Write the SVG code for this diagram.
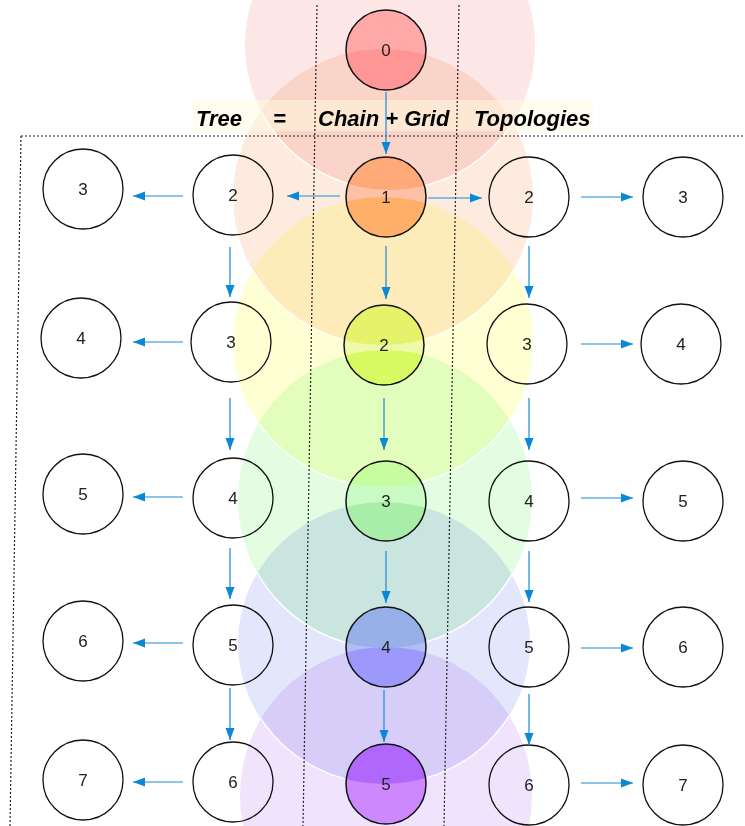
<svg xmlns="http://www.w3.org/2000/svg" width="745" height="826" viewBox="0 0 745 826">
<style>
.halo{mix-blend-mode:multiply;stroke:none}
.edge{fill:none;stroke:#ffffff;stroke-width:1.5;stroke-opacity:0.9}
.cn{stroke:#111;stroke-width:1.5}
.gn{fill:none;stroke:#111;stroke-width:1.3}
.lbl{font-family:"Liberation Sans",Arial,sans-serif;font-size:17px;fill:#222;text-anchor:middle}
.dash{fill:none;stroke:#222;stroke-width:1.2;stroke-dasharray:2 2}
.arr{stroke:#1a8ad8;stroke-width:1.2;fill:none;marker-end:url(#ah)}
.title{font-family:"Liberation Sans",Arial,sans-serif;font-size:22px;font-weight:bold;font-style:italic;fill:#000}
</style>
<defs>
<marker id="ah" markerUnits="userSpaceOnUse" markerWidth="12" markerHeight="10" refX="12" refY="5" orient="auto"><path d="M0,0.5 L12,5 L0,9.5 z" fill="#0a88d8"/></marker>
<clipPath id="cp0"><ellipse cx="390" cy="45" rx="145" ry="145"/></clipPath>
<clipPath id="cp1"><ellipse cx="383" cy="197" rx="150" ry="148"/></clipPath>
<clipPath id="cp2"><ellipse cx="383" cy="342" rx="150" ry="145"/></clipPath>
<clipPath id="cp3"><ellipse cx="385" cy="499" rx="147" ry="149"/></clipPath>
<clipPath id="cp4"><ellipse cx="384" cy="643" rx="146" ry="141"/></clipPath>
<clipPath id="cp5"><ellipse cx="386" cy="795" rx="146" ry="148"/></clipPath>
</defs>
<rect x="0" y="0" width="745" height="826" fill="#ffffff"/>
<g id="halos">
<ellipse class="halo" cx="390" cy="45" rx="145" ry="145" fill="#fde6e6"/>
<ellipse class="halo" cx="383" cy="197" rx="150" ry="148" fill="#fdebdf"/>
<ellipse class="halo" cx="383" cy="342" rx="150" ry="145" fill="#ffffd4"/>
<ellipse class="halo" cx="385" cy="499" rx="147" ry="149" fill="#e2fde2"/>
<ellipse class="halo" cx="384" cy="643" rx="146" ry="141" fill="#e4e6fc"/>
<ellipse class="halo" cx="386" cy="795" rx="146" ry="148" fill="#f0e4fc"/>
</g>
<g id="halo-edges">
<ellipse class="edge" cx="390" cy="45" rx="145" ry="145" clip-path="url(#cp1)"/>
<ellipse class="edge" cx="383" cy="197" rx="150" ry="148" clip-path="url(#cp2)"/>
<ellipse class="edge" cx="383" cy="342" rx="150" ry="145" clip-path="url(#cp3)"/>
<ellipse class="edge" cx="385" cy="499" rx="147" ry="149" clip-path="url(#cp4)"/>
<ellipse class="edge" cx="384" cy="643" rx="146" ry="141" clip-path="url(#cp5)"/>
</g>
<g id="n0">
<circle cx="386" cy="50" r="40" fill="#ffa8a8"/>
<circle cx="386" cy="50" r="40" fill="#ff9696" clip-path="url(#cp1)"/>
<circle class="cn" cx="386" cy="50" r="40" fill="none"/>
<text class="lbl" x="386" y="56">0</text>
</g>
<g id="n1">
<circle cx="386" cy="197" r="40" fill="#ffc0a8"/>
<circle cx="386" cy="197" r="40" fill="#ffa878" clip-path="url(#cp0)"/>
<circle cx="386" cy="197" r="40" fill="#ffb068" clip-path="url(#cp2)"/>
<circle class="cn" cx="386" cy="197" r="40" fill="none"/>
<text class="lbl" x="386" y="203">1</text>
</g>
<g id="n2">
<circle cx="384" cy="345" r="40" fill="#eefaa8"/>
<circle cx="384" cy="345" r="40" fill="#e6f26a" clip-path="url(#cp1)"/>
<circle cx="384" cy="345" r="40" fill="#d8fa62" clip-path="url(#cp3)"/>
<circle class="cn" cx="384" cy="345" r="40" fill="none"/>
<text class="lbl" x="384" y="351">2</text>
</g>
<g id="n3">
<circle cx="386" cy="501" r="40" fill="#c8fcc4"/>
<circle cx="386" cy="501" r="40" fill="#c8fca0" clip-path="url(#cp2)"/>
<circle cx="386" cy="501" r="40" fill="#a8eea8" clip-path="url(#cp4)"/>
<circle class="cn" cx="386" cy="501" r="40" fill="none"/>
<text class="lbl" x="386" y="507">3</text>
</g>
<g id="n4">
<circle cx="386" cy="647" r="40" fill="#b4bcf6"/>
<circle cx="386" cy="647" r="40" fill="#98b0e8" clip-path="url(#cp3)"/>
<circle cx="386" cy="647" r="40" fill="#9c98fc" clip-path="url(#cp5)"/>
<circle class="cn" cx="386" cy="647" r="40" fill="none"/>
<text class="lbl" x="386" y="653">4</text>
</g>
<g id="n5">
<circle cx="386" cy="784" r="40" fill="#cc88fc"/>
<circle cx="386" cy="784" r="40" fill="#b068fc" clip-path="url(#cp4)"/>
<circle class="cn" cx="386" cy="784" r="40" fill="none"/>
<text class="lbl" x="386" y="790">5</text>
</g>
<g id="title">
<rect x="193" y="100" width="400" height="31" fill="#fffbe0" fill-opacity="0.5"/>
<text class="title" y="126"><tspan x="196">Tree</tspan><tspan x="273">=</tspan><tspan x="318">Chain + Grid</tspan><tspan x="474">Topologies</tspan></text>
</g>
<g id="frame">
<line class="dash" x1="317" y1="5" x2="303" y2="826"/>
<line class="dash" x1="459" y1="5" x2="444" y2="826"/>
<line class="dash" x1="21" y1="136" x2="745" y2="136"/>
<line class="dash" x1="21" y1="136" x2="10" y2="826"/>
</g>
<g id="gL1"><circle class="gn" cx="233" cy="195" r="40"/><text class="lbl" x="233" y="201">2</text></g>
<g id="gL2"><circle class="gn" cx="231" cy="342" r="40"/><text class="lbl" x="231" y="348">3</text></g>
<g id="gL3"><circle class="gn" cx="233" cy="498" r="40"/><text class="lbl" x="233" y="504">4</text></g>
<g id="gL4"><circle class="gn" cx="233" cy="645" r="40"/><text class="lbl" x="233" y="651">5</text></g>
<g id="gL5"><circle class="gn" cx="233" cy="782" r="40"/><text class="lbl" x="233" y="788">6</text></g>
<g id="gLL1"><circle class="gn" cx="83" cy="189" r="40"/><text class="lbl" x="83" y="195">3</text></g>
<g id="gLL2"><circle class="gn" cx="81" cy="338" r="40"/><text class="lbl" x="81" y="344">4</text></g>
<g id="gLL3"><circle class="gn" cx="83" cy="494" r="40"/><text class="lbl" x="83" y="500">5</text></g>
<g id="gLL4"><circle class="gn" cx="83" cy="641" r="40"/><text class="lbl" x="83" y="647">6</text></g>
<g id="gLL5"><circle class="gn" cx="83" cy="780" r="40"/><text class="lbl" x="83" y="786">7</text></g>
<g id="gR1"><circle class="gn" cx="529" cy="197" r="40"/><text class="lbl" x="529" y="203">2</text></g>
<g id="gR2"><circle class="gn" cx="527" cy="344" r="40"/><text class="lbl" x="527" y="350">3</text></g>
<g id="gR3"><circle class="gn" cx="529" cy="501" r="40"/><text class="lbl" x="529" y="507">4</text></g>
<g id="gR4"><circle class="gn" cx="529" cy="647" r="40"/><text class="lbl" x="529" y="653">5</text></g>
<g id="gR5"><circle class="gn" cx="529" cy="785" r="40"/><text class="lbl" x="529" y="791">6</text></g>
<g id="gRR1"><circle class="gn" cx="683" cy="197" r="40"/><text class="lbl" x="683" y="203">3</text></g>
<g id="gRR2"><circle class="gn" cx="681" cy="344" r="40"/><text class="lbl" x="681" y="350">4</text></g>
<g id="gRR3"><circle class="gn" cx="683" cy="501" r="40"/><text class="lbl" x="683" y="507">5</text></g>
<g id="gRR4"><circle class="gn" cx="683" cy="647" r="40"/><text class="lbl" x="683" y="653">6</text></g>
<g id="gRR5"><circle class="gn" cx="683" cy="785" r="40"/><text class="lbl" x="683" y="791">7</text></g>
<g id="connectors">
<line class="arr" x1="386" y1="92" x2="386" y2="154"/>
<line class="arr" x1="386" y1="246" x2="386" y2="299"/>
<line class="arr" x1="384" y1="398" x2="384" y2="450"/>
<line class="arr" x1="386" y1="551" x2="386" y2="603"/>
<line class="arr" x1="384" y1="690" x2="384" y2="742"/>
<line class="arr" x1="340" y1="196" x2="287" y2="196"/>
<line class="arr" x1="428" y1="198" x2="482" y2="198"/>
<line class="arr" x1="230" y1="247" x2="230" y2="297"/>
<line class="arr" x1="230" y1="398" x2="230" y2="450"/>
<line class="arr" x1="230" y1="548" x2="230" y2="599"/>
<line class="arr" x1="230" y1="688" x2="230" y2="740"/>
<line class="arr" x1="183" y1="196" x2="133" y2="196"/>
<line class="arr" x1="183" y1="342" x2="133" y2="342"/>
<line class="arr" x1="183" y1="497" x2="133" y2="497"/>
<line class="arr" x1="183" y1="643" x2="133" y2="643"/>
<line class="arr" x1="183" y1="782" x2="133" y2="782"/>
<line class="arr" x1="529" y1="246" x2="529" y2="298"/>
<line class="arr" x1="529" y1="398" x2="529" y2="450"/>
<line class="arr" x1="529" y1="551" x2="529" y2="602"/>
<line class="arr" x1="529" y1="694" x2="529" y2="745"/>
<line class="arr" x1="581" y1="197" x2="633" y2="197"/>
<line class="arr" x1="581" y1="344" x2="633" y2="344"/>
<line class="arr" x1="581" y1="498" x2="633" y2="498"/>
<line class="arr" x1="581" y1="648" x2="633" y2="648"/>
<line class="arr" x1="581" y1="783" x2="633" y2="783"/>
</g>
</svg>
